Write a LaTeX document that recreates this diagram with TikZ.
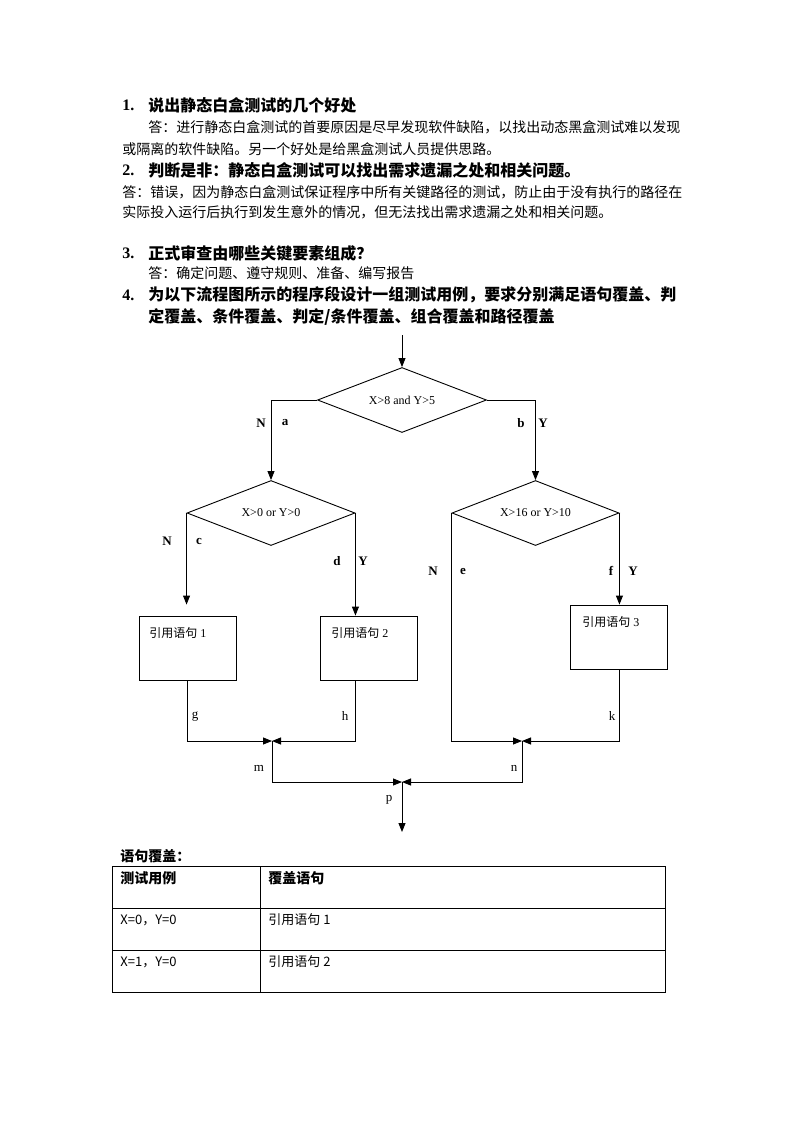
\documentclass[tikz,border=0pt]{standalone}
\usepackage{fontspec}
\setmainfont{Liberation Serif}
\newfontfamily\cjk{Noto Sans CJK SC}
\usetikzlibrary{arrows.meta,shapes.geometric}

\begin{document}
\begin{tikzpicture}[x=1pt,y=-1pt,line width=0.9pt,
	txt/.style={anchor=west,inner sep=0pt,font=\cjk\fontsize{14}{14}\selectfont},
	head/.style={anchor=west,inner sep=0pt,font=\cjk\bfseries\fontsize{16}{16}\selectfont},
	num/.style={anchor=west,inner sep=0pt,font=\bfseries\fontsize{16}{16}\selectfont},
	cond/.style={draw,diamond,aspect=2.6,inner sep=0pt,minimum height=65pt,font=\fontsize{12}{12}\selectfont},
	stmt/.style={draw,rectangle,inner sep=0pt,minimum width=97pt,minimum height=64pt},
	stmttxt/.style={anchor=west,inner sep=0pt,font=\fontsize{12}{12}\selectfont},
	lbl/.style={inner sep=0pt,font=\bfseries\fontsize{13}{13}\selectfont},
	tag/.style={inner sep=0pt,font=\fontsize{13}{13}\selectfont},
	cell/.style={anchor=west,inner sep=0pt,font=\cjk\fontsize{13}{13}\selectfont},
	flow/.style={-{Triangle[length=9pt,width=7pt]}}
]
	%%%%% START %%%%%
	\useasboundingbox (0,0) rectangle (793,1122);
	\fill[white] (0,0) rectangle (793,1122);
	
	% questions
	\node[num] (n1) at (122,105) {1.};
	\node[head] (q1) at (148,105) {说出静态白盒测试的几个好处};
	\node[txt] (a1a) at (148,127) {答：进行静态白盒测试的首要原因是尽早发现软件缺陷，以找出动态黑盒测试难以发现};
	\node[txt] (a1b) at (122,149) {或隔离的软件缺陷。另一个好处是给黑盒测试人员提供思路。};
	\node[num] (n2) at (122,170) {2.};
	\node[head] (q2) at (148,170) {判断是非：静态白盒测试可以找出需求遗漏之处和相关问题。};
	\node[txt] (a2a) at (122,192) {答：错误，因为静态白盒测试保证程序中所有关键路径的测试，防止由于没有执行的路径在};
	\node[txt] (a2b) at (122,212) {实际投入运行后执行到发生意外的情况，但无法找出需求遗漏之处和相关问题。};
	\node[num] (n3) at (122,253) {3.};
	\node[head] (q3) at (148,253) {正式审查由哪些关键要素组成？};
	\node[txt] (a3) at (148,273) {答：确定问题、遵守规则、准备、编写报告};
	\node[num] (n4) at (122,295) {4.};
	\node[head] (q4a) at (148,295) {为以下流程图所示的程序段设计一组测试用例，要求分别满足语句覆盖、判};
	\node[head] (q4b) at (148,317) {定覆盖、条件覆盖、判定/条件覆盖、组合覆盖和路径覆盖};
	
	% flow chart
	\coordinate (start) at (402,335);
	\node[cond,minimum width=169pt] (d1) at (402,400) {X>8 and Y>5};
	\node[cond,minimum width=168pt] (d2) at (271,513) {X>0 or Y>0};
	\node[cond,minimum width=167pt] (d3) at (535.5,513) {X>16 or Y>10};
	
	\node[stmt] (s1) at (187.5,648) {};
	\node[stmt] (s2) at (368.5,648) {};
	\node[stmt] (s3) at (619,637) {};
	\node[stmttxt] (t1) at (149,633) {{\cjk 引用语句} 1};
	\node[stmttxt] (t2) at (331,633) {{\cjk 引用语句} 2};
	\node[stmttxt] (t3) at (582,622) {{\cjk 引用语句} 3};
	
	\coordinate (j1) at (272,741);
	\coordinate (j2) at (522,741);
	\coordinate (j3) at (402,782);
	\coordinate (stop) at (402,832);
	
	\draw[flow] (start) -- (d1.north);
	\draw[flow] (d1.west) -| (d2.north);
	\draw[flow] (d1.east) -| (d3.north);
	\draw[flow,shorten >=11pt] (d2.west) -- (d2.west |- s1.north);
	\draw[flow] (d2.east) -- (d2.east |- s2.north);
	\draw[flow] (d3.east) -- (d3.east |- s3.north);
	\draw[flow] (d3.west) |- (j2);
	\draw[flow] (s1.south) |- (j1);
	\draw[flow] (d2.east |- s2.south) |- (j1);
	\draw[flow] (s3.south) |- (j2);
	\draw[flow] (j1) |- (j3);
	\draw[flow] (j2) |- (j3);
	\draw[flow] (j3) -- (stop);
	
	% branch labels
	\node[lbl] (la1) at (261,423) {N};
	\node[lbl] (la2) at (285,423) {a};
	\node[lbl] (lb1) at (521,423) {b};
	\node[lbl] (lb2) at (543,423) {Y};
	\node[lbl] (lc1) at (167,541) {N};
	\node[lbl] (lc2) at (199,541) {c};
	\node[lbl] (ld1) at (337,561) {d};
	\node[lbl] (ld2) at (363,561) {Y};
	\node[lbl] (le1) at (433,571) {N};
	\node[lbl] (le2) at (463,571) {e};
	\node[lbl] (lf1) at (611,571) {f};
	\node[lbl] (lf2) at (633,571) {Y};
	\node[tag] (lg) at (195,717) {g};
	\node[tag] (lh) at (345,716) {h};
	\node[tag] (lk) at (612,716) {k};
	\node[tag] (lm) at (259,768) {m};
	\node[tag] (ln) at (514,768) {n};
	\node[tag] (lp) at (389,800) {p};
	
	% table
	\node[cell,font=\cjk\bfseries\fontsize{14}{14}\selectfont] (cov) at (120,856) {语句覆盖：};
	\draw (112,866) rectangle (665,992);
	\draw (260,866) -- (260,992);
	\draw (112,908) -- (665,908);
	\draw (112,950) -- (665,950);
	\node[cell,font=\cjk\bfseries\fontsize{14}{14}\selectfont] (h1) at (120,878) {测试用例};
	\node[cell,font=\cjk\bfseries\fontsize{14}{14}\selectfont] (h2) at (268,878) {覆盖语句};
	\node[cell] (r1a) at (120,920) {X=0，Y=0};
	\node[cell] (r1b) at (268,920) {引用语句 1};
	\node[cell] (r2a) at (120,962) {X=1，Y=0};
	\node[cell] (r2b) at (268,962) {引用语句 2};
	%%%%% END %%%%%
\end{tikzpicture}
\end{document}
